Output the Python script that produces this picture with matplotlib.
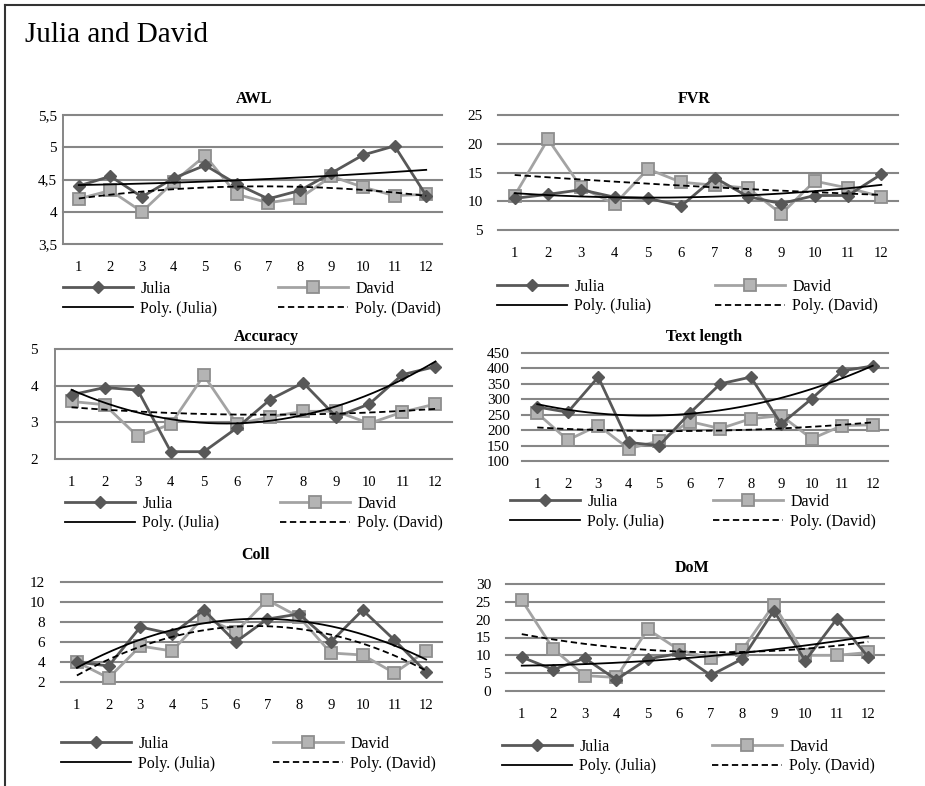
import numpy as np
import matplotlib
matplotlib.use("Agg")
import matplotlib.pyplot as plt
from matplotlib.lines import Line2D

# ---------------- data ----------------
sessions = list(range(1, 13))

awl_julia = [4.40, 4.55, 4.23, 4.52, 4.72, 4.43, 4.20, 4.33, 4.60, 4.88, 5.02, 4.25]
awl_david = [4.20, 4.33, 4.00, 4.46, 4.87, 4.27, 4.14, 4.21, 4.55, 4.38, 4.25, 4.27]
awl_yticks = [3.5, 4, 4.5, 5, 5.5]
awl_ylabels = ["3,5", "4", "4,5", "5", "5,5"]

fvr_julia = [10.5, 11.2, 12.0, 10.7, 10.5, 9.2, 14.1, 10.8, 9.6, 11.0, 11.0, 14.7]
fvr_david = [11.0, 20.8, 12.4, 9.5, 15.6, 13.3, 12.8, 12.3, 7.8, 13.5, 12.3, 10.8]
fvr_yticks = [5, 10, 15, 20, 25]
fvr_ylabels = ["5", "10", "15", "20", "25"]

acc_julia = [3.75, 3.95, 3.88, 2.20, 2.20, 2.85, 3.62, 4.08, 3.15, 3.50, 4.30, 4.52]
acc_david = [3.57, 3.48, 2.62, 2.95, 4.28, 2.95, 3.15, 3.30, 3.30, 2.97, 3.28, 3.50]
acc_yticks = [2, 3, 4, 5]
acc_ylabels = ["2", "3", "4", "5"]

tl_julia = [275, 258, 372, 160, 150, 255, 350, 372, 220, 302, 392, 408]
tl_david = [255, 168, 215, 140, 165, 228, 205, 237, 247, 172, 215, 217]
tl_yticks = [100, 150, 200, 250, 300, 350, 400, 450]
tl_ylabels = ["100", "150", "200", "250", "300", "350", "400", "450"]

coll_julia = [4.0, 3.6, 7.5, 6.8, 9.2, 6.0, 8.3, 8.8, 6.0, 9.2, 6.2, 3.0]
coll_david = [4.0, 2.4, 5.6, 5.1, 8.5, 7.0, 10.2, 8.5, 4.9, 4.7, 2.9, 5.1]
coll_yticks = [2, 4, 6, 8, 10, 12]
coll_ylabels = ["2", "4", "6", "8", "10", "12"]

dom_julia = [9.5, 6.0, 9.2, 3.2, 9.0, 10.5, 4.4, 9.0, 22.5, 8.5, 20.2, 9.5]
dom_david = [25.5, 11.8, 4.3, 3.8, 17.3, 11.5, 9.2, 11.5, 24.2, 10.0, 10.0, 10.8]
dom_yticks = [0, 5, 10, 15, 20, 25, 30]
dom_ylabels = ["0", "5", "10", "15", "20", "25", "30"]

titles = ["AWL", "FVR", "Accuracy", "Text length", "Coll", "DoM"]
series_names = ["Julia", "David", "Poly. (Julia)", "Poly. (David)"]
main_title = "Julia and David"

# ---------------- layout (pixels) ----------------
W, H = 925, 786
FONT = "Liberation Serif"
plt.rcParams["font.family"] = [FONT, "DejaVu Serif"]

fig = plt.figure(figsize=(W / 100, H / 100), dpi=100)

def fx(px):
    return px / W

def fy(py):
    return 1 - py / H

panels = [
    (awl_julia, awl_david, awl_yticks, awl_ylabels, (63, 442, 115, 244), True, 6,
     (254, 99), (63, 278), (289, 309)),
    (fvr_julia, fvr_david, fvr_yticks, fvr_ylabels, (498, 898, 115, 230), False, 15,
     (694, 99), (497, 715), (285, 308)),
    (acc_julia, acc_david, acc_yticks, acc_ylabels, (55, 452, 349, 459), True, 17,
     (266, 337), (65, 280), (503, 524)),
    (tl_julia, tl_david, tl_yticks, tl_ylabels, (522, 888, 353, 461), False, 12,
     (704, 337), (510, 713), (501, 523)),
    (coll_julia, coll_david, coll_yticks, coll_ylabels, (61, 442, 582, 682), False, 16,
     (255, 555), (61, 273), (743, 765)),
    (dom_julia, dom_david, dom_yticks, dom_ylabels, (506, 884, 584, 691), False, 15,
     (692, 568), (502, 712), (745, 768)),
]

GRID = "#868686"
JC = "#585858"
DC = "#a3a3a3"

x = np.array(sessions)
xs = np.linspace(1, 12, 200)

for (dj, dd, yt, yl, (x0, x1, yt0, yb0), lspine, ypad, (tcx, tcy),
     (lc1, lc2), (r1, r2)), title in zip(panels, titles):
    ax = fig.add_axes([fx(x0), fy(yb0), fx(x1) - fx(x0), (yb0 - yt0) / H])
    ax.set_xlim(0.5, 12.5)
    ax.set_ylim(yt[0], yt[-1])
    ax.set_yticks(yt)
    ax.set_yticklabels(yl)
    ax.set_xticks(sessions)
    ax.set_xticklabels([str(s) for s in sessions])
    for s in ["top", "right", "bottom"]:
        ax.spines[s].set_visible(False)
    ax.spines["left"].set_visible(lspine)
    ax.spines["left"].set_color(GRID)
    ax.spines["left"].set_linewidth(1.4)
    for v in yt:
        ax.axhline(v, color=GRID, lw=1.5, zorder=0, clip_on=False)
    ax.tick_params(axis="both", length=0, colors="black")
    ax.tick_params(axis="y", pad=ypad * 0.72, labelsize=11)
    ax.tick_params(axis="x", pad=12, labelsize=10.5)
    for lab in ax.get_xticklabels() + ax.get_yticklabels():
        lab.set_fontfamily(FONT)

    lj, = ax.plot(x, dj, color=JC, lw=2.0, marker="D", ms=6,
                  mfc=JC, mec=JC, zorder=3, clip_on=False)
    ld, = ax.plot(x, dd, color=DC, lw=2.0, marker="s", ms=8,
                  mfc="#b4b4b4", mec="#8e8e8e", mew=1.3, zorder=2, clip_on=False)
    pj = np.polyfit(x, dj, 2)
    pd_ = np.polyfit(x, dd, 2)
    lpj, = ax.plot(xs, np.polyval(pj, xs), color="black", lw=1.3, zorder=4)
    lpd, = ax.plot(xs, np.polyval(pd_, xs), color="black", lw=1.3,
                   ls=(0, (3.5, 2)), zorder=4)

    fig.text(fx(tcx), fy(tcy), title, ha="center", va="center",
             fontsize=11.5, fontweight="bold", fontfamily=FONT)

    ymid = fy((r1 + r2) / 2)
    leg1 = ax.legend([lj, lpj], [series_names[0], series_names[2]],
                     loc="center left", bbox_to_anchor=(fx(lc1), ymid),
                     bbox_transform=fig.transFigure, frameon=False,
                     borderpad=0, borderaxespad=0, handlelength=4.4,
                     handletextpad=0.45, labelspacing=0.25,
                     prop={"family": FONT, "size": 11.5})
    ax.add_artist(leg1)
    ax.legend([ld, lpd], [series_names[1], series_names[3]],
              loc="center left", bbox_to_anchor=(fx(lc2), ymid),
              bbox_transform=fig.transFigure, frameon=False,
              borderpad=0, borderaxespad=0, handlelength=4.4,
              handletextpad=0.45, labelspacing=0.25,
              prop={"family": FONT, "size": 11.5})

fig.text(fx(25), fy(42), main_title, ha="left", va="baseline",
         fontsize=21, fontfamily=FONT)

fig.add_artist(Line2D([fx(5), 1.0], [fy(5), fy(5)], color="#333333", lw=1.5))
fig.add_artist(Line2D([fx(5), fx(5)], [fy(5), 0.0], color="#333333", lw=1.5))

fig.savefig("out.png", dpi=100)
